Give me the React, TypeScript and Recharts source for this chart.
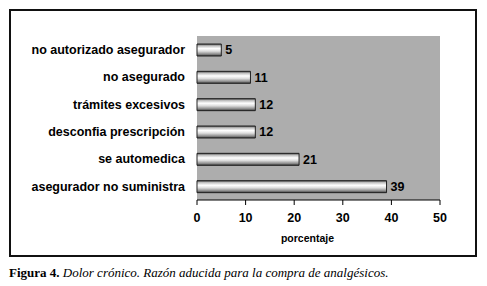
import { BarChart, Bar, XAxis, YAxis, CartesianGrid, LabelList } from 'recharts';

const categories = [
  'no autorizado asegurador',
  'no asegurado',
  'trámites excesivos',
  'desconfia prescripción',
  'se automedica',
  'asegurador no suministra',
];
const porcentaje = [5, 11, 12, 12, 21, 39];
const xTicks = [0, 10, 20, 30, 40, 50];
const boundaryTicks = [0, 1, 2, 3, 4, 5, 6];

const data = categories.map((name, i) => ({ name, value: porcentaje[i] }));

const font = 'Arial, "Liberation Sans", Helvetica, sans-serif';

const App = () => {
  return (
    <div style={{ position: 'absolute', left: 0, top: 0, width: 487, height: 286, background: '#fff' }}>
      <div
        style={{
          position: 'absolute',
          left: 9,
          top: 9,
          width: 464,
          height: 244,
          border: '2px solid #111',
        }}
      />
      <div style={{ position: 'absolute', left: 0, top: 0 }}>
        <BarChart
          width={487}
          height={286}
          data={data}
          layout="vertical"
          margin={{ top: 36, right: 47, bottom: 36, left: 0 }}
          barSize={12}
        >
          <defs>
            <linearGradient id="barShade" x1="0" y1="0" x2="0" y2="1">
              <stop offset="0" stopColor="#444" />
              <stop offset="0.15" stopColor="#bdbdbd" />
              <stop offset="0.38" stopColor="#ffffff" />
              <stop offset="0.6" stopColor="#dcdcdc" />
              <stop offset="0.85" stopColor="#8a8a8a" />
              <stop offset="1" stopColor="#3a3a3a" />
            </linearGradient>
          </defs>
          <CartesianGrid fill="#adadad" horizontal={false} vertical={false} />
          <XAxis
            type="number"
            domain={[0, 50]}
            ticks={xTicks}
            height={50}
            stroke="#000"
            tickSize={5}
            tickMargin={8}
            tick={{ fill: '#000', fontSize: 12.5, fontWeight: 'bold', fontFamily: font }}
            label={{
              value: 'porcentaje',
              position: 'insideBottom',
              offset: 8,
              dx: -11,
              fill: '#000',
              fontSize: 10.5,
              fontWeight: 'bold',
              fontFamily: font,
            }}
          />
          <YAxis
            yAxisId="bounds"
            type="number"
            domain={[0, 6]}
            ticks={boundaryTicks}
            width={0}
            stroke="#000"
            tickSize={4}
            tickFormatter={() => ''}
          />
          <YAxis
            yAxisId="cat"
            type="category"
            dataKey="name"
            width={197}
            axisLine={false}
            tickLine={false}
            tickMargin={6}
            tick={{ fill: '#000', fontSize: 12.5, fontWeight: 'bold', fontFamily: font }}
          />
          <Bar
            yAxisId="cat"
            dataKey="value"
            fill="url(#barShade)"
            stroke="#222"
            strokeWidth={1}
            isAnimationActive={false}
          >
            <LabelList
              dataKey="value"
              position="right"
              offset={4}
              fill="#000"
              fontSize={12.5}
              fontWeight="bold"
              fontFamily={font}
            />
          </Bar>
        </BarChart>
      </div>
      <div
        style={{
          position: 'absolute',
          left: 9,
          top: 265,
          fontFamily: '"Liberation Serif", "Times New Roman", serif',
          fontSize: 13,
          color: '#000',
          whiteSpace: 'nowrap',
        }}
      >
        <b>Figura 4.</b> <i>Dolor crónico. Razón aducida para la compra de analgésicos.</i>
      </div>
    </div>
  );
};

export default App;
